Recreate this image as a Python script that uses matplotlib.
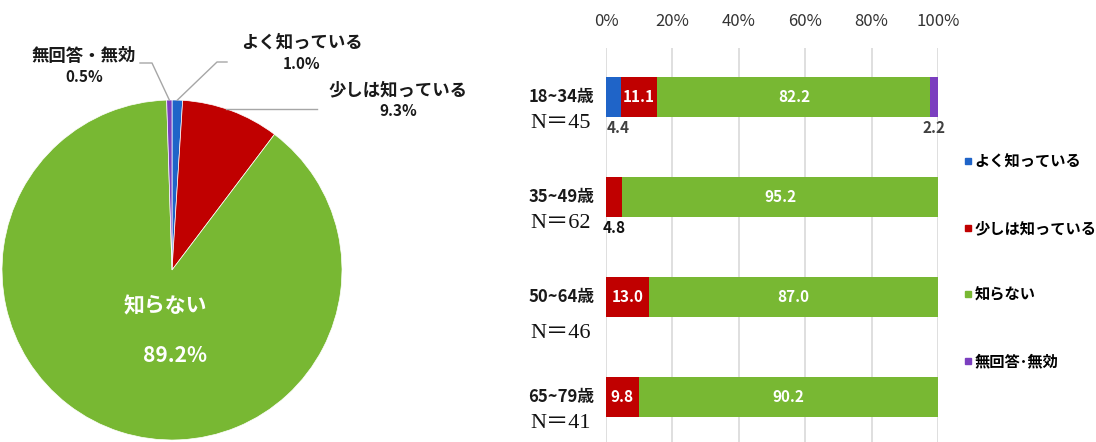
import matplotlib.pyplot as plt
import numpy as np
from matplotlib.lines import Line2D

plt.rcParams['font.family'] = ['Noto Sans CJK JP', 'DejaVu Sans']

# response categories and colours
categories = ['よく知っている', '少しは知っている', '知らない', '無回答・無効']
colors = ['#1f64c8', '#c00000', '#78b833', '#7b3fbf']

# overall shares (%)
overall = [1.0, 9.3, 89.2, 0.5]

# by age group (%)
age_groups = ['18~34歳', '35~49歳', '50~64歳', '65~79歳']
group_n = [45, 62, 46, 41]
well_known = [4.4, 0.0, 0.0, 0.0]
somewhat = [11.1, 4.8, 13.0, 9.8]
unknown = [82.2, 95.2, 87.0, 90.2]
no_answer = [2.2, 0.0, 0.0, 0.0]
x_ticks = [0, 20, 40, 60, 80, 100]

W, H = 1096, 442
fig = plt.figure(figsize=(W / 100, H / 100), dpi=100)


def fx(px):
    return px / W


def fy(py):
    return 1 - py / H


# ---- pie -------------------------------------------------------------
ax_pie = fig.add_axes([fx(2), fy(440), 340 / W, 340 / H])
wedges, _ = ax_pie.pie(overall, colors=colors, startangle=90, counterclock=False,
                       wedgeprops=dict(linewidth=0.5, edgecolor='white'))
ax_pie.set_xlim(-1, 1)
ax_pie.set_ylim(-1, 1)
ax_pie.set_aspect('equal')

ax_pie.text(-0.04, -0.21, '知らない', color='white', fontsize=15, weight='bold',
            ha='center', va='center')
ax_pie.text(0.02, -0.50, '%.1f%%' % overall[2], color='white', fontsize=15,
            weight='bold', ha='center', va='center')

# label centre (x, y), leader start (x, y), knee x -- in pixels
lbl_pos = {0: (302, 43, 227, 62, 217), 1: (398, 90, 317, 109, 300),
           3: (84, 56, 140, 63, 152)}
inv = ax_pie.transData.inverted()
for i, (tx, ty, lx, ly, hx) in lbl_pos.items():
    w = wedges[i]
    ang = np.deg2rad((w.theta1 + w.theta2) / 2)
    px, py = np.cos(ang), np.sin(ang)
    p_h = inv.transform(fig.transFigure.transform((fx(hx), fy(ly))))
    p_l = inv.transform(fig.transFigure.transform((fx(lx), fy(ly))))
    if i == 1:
        py = p_l[1]
        px = np.sqrt(1 - py ** 2) * 0.99
        p_h = (px, py)
    ax_pie.plot([px, p_h[0], p_l[0]], [py, p_h[1], p_l[1]], color='#a6a6a6',
                lw=1, clip_on=False)
    fig.text(fx(tx), fy(ty), categories[i], fontsize=12.5, weight='bold',
             ha='center', va='center', color='#1a1a1a')
    fig.text(fx(tx), fy(ty + 21), '%.1f%%' % overall[i], fontsize=11,
             weight='bold', ha='center', va='center', color='#1a1a1a')

# ---- stacked bars ----------------------------------------------------
ax = fig.add_axes([fx(606), 0, (938 - 606) / W, fy(48)])
rows = np.arange(len(age_groups))
series = [well_known, somewhat, unknown, no_answer]
left = np.zeros(len(age_groups))
for k, vals in enumerate(series):
    vals = np.array(vals)
    ax.barh(rows, vals, left=left, height=0.4, color=colors[k], zorder=3)
    for r, v in enumerate(vals):
        if v <= 0:
            continue
        cx = left[r] + v / 2
        if v >= 8:
            ax.text(cx, r, '%.1f' % v, color='white', fontsize=11, weight='bold',
                    ha='center', va='center', zorder=4)
        else:
            c = '#111111' if k == 1 else '#404040'
            ax.text(cx + (1.5 if k == 0 else 0), r + 0.31, '%.1f' % v, color=c,
                    fontsize=11, weight='bold', ha='center', va='center', zorder=4)
    left += vals

ax.set_xlim(0, 100)
ax.set_ylim(3.45, -0.49)
ax.set_xticks(x_ticks)
ax.set_xticklabels(['%d%%' % t for t in x_ticks], fontsize=12, color='#333333')
ax.xaxis.tick_top()
ax.tick_params(axis='x', length=0, pad=13)
ax.set_yticks([])
ax.grid(axis='x', color='#d9d9d9', lw=1.2, zorder=0)
for s in ax.spines.values():
    s.set_visible(False)

for r, (g, n) in enumerate(zip(age_groups, group_n)):
    ax.text(-3.5, r, g, fontsize=12, weight='bold', ha='right', va='center',
            color='#1a1a1a')
    ax.text(-4.5, r + 0.27 + (0.1 if r == 2 else 0), 'N＝%d' % n, fontsize=16,
            ha='right', va='center', color='#111111',
            family=['Liberation Serif', 'Noto Sans CJK JP'])

legend_labels = [c.replace('・', '･') for c in categories]
handles = [Line2D([], [], marker='s', ls='', color=c, markersize=5) for c in colors]
fig.legend(handles, legend_labels, loc='upper left',
           bbox_to_anchor=(fx(957), fy(146)), frameon=False,
           handlelength=0.5, handletextpad=0.15, labelspacing=3.3, borderpad=0,
           prop=dict(family='Noto Sans CJK JP', weight='bold', size=11))

fig.savefig('out.png', dpi=100)
